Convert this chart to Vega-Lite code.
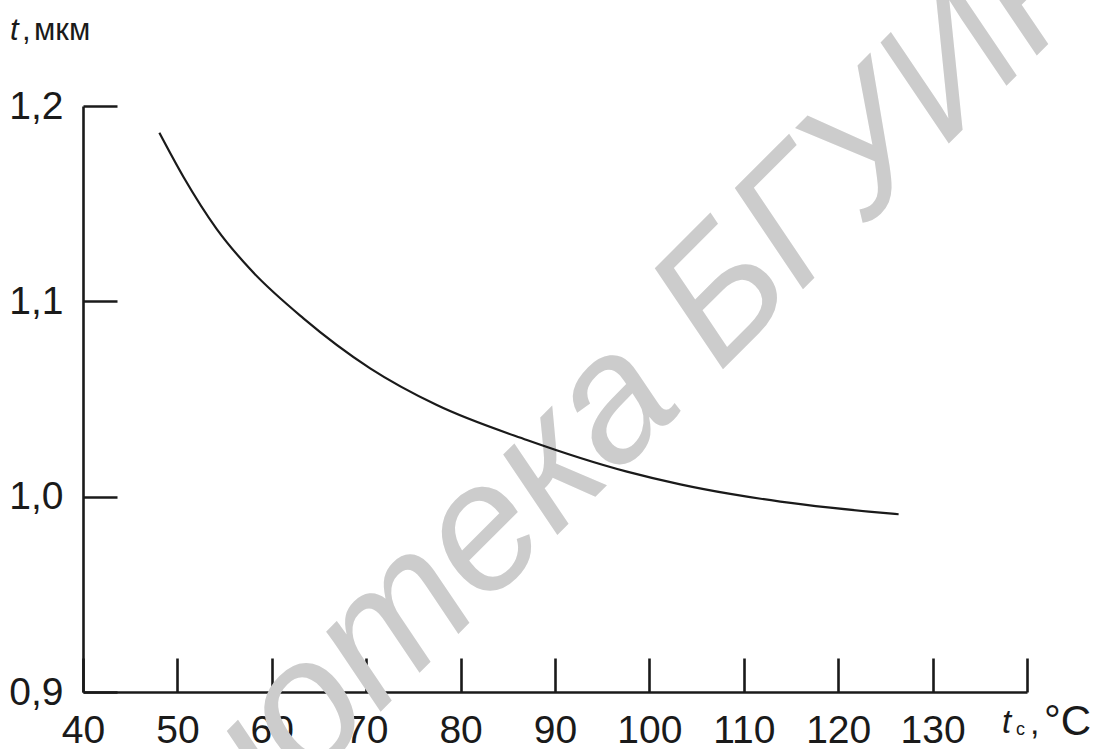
{
  "$schema": "https://vega.github.io/schema/vega-lite/v6.json",
  "width": 944,
  "height": 586,
  "autosize": {"type": "none"},
  "padding": {"left": 83, "top": 106, "right": 66, "bottom": 57},
  "background": "white",
  "config": {
    "view": {"stroke": null},
    "font": "Liberation Sans",
    "axis": {"zindex": 1}
  },
  "data": {
    "values": [
      {"temp": 48.09, "thick": 1.1863},
      {"temp": 50.63, "thick": 1.1638},
      {"temp": 54.17, "thick": 1.137},
      {"temp": 57.7, "thick": 1.1165},
      {"temp": 63.35, "thick": 1.0913},
      {"temp": 70.42, "thick": 1.0657},
      {"temp": 77.48, "thick": 1.0469},
      {"temp": 87.02, "thick": 1.029},
      {"temp": 97.62, "thick": 1.0128},
      {"temp": 103.27, "thick": 1.0063},
      {"temp": 108.57, "thick": 1.0014},
      {"temp": 113.87, "thick": 0.9975},
      {"temp": 119.17, "thick": 0.9944},
      {"temp": 124.46, "thick": 0.9918},
      {"temp": 126.4, "thick": 0.991}
    ]
  },
  "layer": [
    {
      "data": {"values": [{"w": "БГУИР"}]},
      "mark": {"type": "text", "align": "left", "baseline": "alphabetic", "angle": -45, "fontSize": 174, "fontStyle": "italic", "color": "#cccccc", "font": "Liberation Sans"},
      "encoding": {
        "x": {"datum": 107.4, "type": "quantitative"},
        "y": {"datum": 1.0633, "type": "quantitative"},
        "text": {"field": "w"}
      }
    },
    {
      "data": {"values": [{"w": "Библиотека"}]},
      "mark": {"type": "text", "align": "right", "baseline": "alphabetic", "angle": -45, "fontSize": 180, "fontStyle": "italic", "color": "#cccccc", "font": "Liberation Sans"},
      "encoding": {
        "x": {"datum": 103.9, "type": "quantitative"},
        "y": {"datum": 1.0464, "type": "quantitative"},
        "text": {"field": "w"}
      }
    },
    {
      "mark": {"type": "line", "interpolate": "monotone", "color": "#1a1a1a", "strokeWidth": 2.2},
      "encoding": {
        "x": {
          "field": "temp", "type": "quantitative",
          "scale": {"domain": [40, 140], "nice": false, "zero": false},
          "axis": {
            "values": [40, 50, 60, 70, 80, 90, 100, 110, 120, 130, 140],
            "labelExpr": "datum.value == 140 ? '' : datum.label",
            "title": null, "grid": false,
            "domainColor": "#1a1a1a", "domainWidth": 2.6,
            "tickColor": "#1a1a1a", "tickWidth": 2.6, "tickSize": -34,
            "labelFontSize": 39, "labelColor": "#1a1a1a", "labelFont": "Liberation Sans",
            "labelPadding": 53, "labelBaseline": "top", "labelFlush": false, "labelOverlap": false
          }
        },
        "y": {
          "field": "thick", "type": "quantitative",
          "scale": {"domain": [0.9, 1.2], "nice": false, "zero": false},
          "axis": {
            "values": [0.9, 1.0, 1.1, 1.2],
            "labelExpr": "replace(format(datum.value, '.1f'), '.', ',')",
            "title": null, "grid": false,
            "domainColor": "#1a1a1a", "domainWidth": 2.6,
            "tickColor": "#1a1a1a", "tickWidth": 2.6, "tickSize": -34,
            "labelFontSize": 39, "labelColor": "#1a1a1a", "labelFont": "Liberation Sans",
            "labelPadding": 54, "labelFlush": false, "labelOverlap": false
          }
        }
      }
    },
    {
      "data": {"values": [{"s": "t"}]},
      "mark": {"type": "text", "align": "left", "baseline": "alphabetic", "fontSize": 31, "fontStyle": "italic", "color": "#1a1a1a", "dx": -73, "dy": -66},
      "encoding": {"x": {"datum": 40, "type": "quantitative"}, "y": {"datum": 1.2, "type": "quantitative"}, "text": {"field": "s"}}
    },
    {
      "data": {"values": [{"s": ","}]},
      "mark": {"type": "text", "align": "left", "baseline": "alphabetic", "fontSize": 31, "color": "#1a1a1a", "dx": -61, "dy": -66},
      "encoding": {"x": {"datum": 40, "type": "quantitative"}, "y": {"datum": 1.2, "type": "quantitative"}, "text": {"field": "s"}}
    },
    {
      "data": {"values": [{"s": "мкм"}]},
      "mark": {"type": "text", "align": "left", "baseline": "alphabetic", "fontSize": 31, "color": "#1a1a1a", "dx": -49, "dy": -66},
      "encoding": {"x": {"datum": 40, "type": "quantitative"}, "y": {"datum": 1.2, "type": "quantitative"}, "text": {"field": "s"}}
    },
    {
      "data": {"values": [{"s": "t"}]},
      "mark": {"type": "text", "align": "left", "baseline": "alphabetic", "fontSize": 33, "fontStyle": "italic", "color": "#1a1a1a", "dx": -25, "dy": 41},
      "encoding": {"x": {"datum": 140, "type": "quantitative"}, "y": {"datum": 0.9, "type": "quantitative"}, "text": {"field": "s"}}
    },
    {
      "data": {"values": [{"s": "c"}]},
      "mark": {"type": "text", "align": "left", "baseline": "alphabetic", "fontSize": 18, "color": "#1a1a1a", "dx": -11, "dy": 43},
      "encoding": {"x": {"datum": 140, "type": "quantitative"}, "y": {"datum": 0.9, "type": "quantitative"}, "text": {"field": "s"}}
    },
    {
      "data": {"values": [{"s": ","}]},
      "mark": {"type": "text", "align": "left", "baseline": "alphabetic", "fontSize": 34, "color": "#1a1a1a", "dx": 3, "dy": 42},
      "encoding": {"x": {"datum": 140, "type": "quantitative"}, "y": {"datum": 0.9, "type": "quantitative"}, "text": {"field": "s"}}
    },
    {
      "data": {"values": [{"s": "°C"}]},
      "mark": {"type": "text", "align": "left", "baseline": "alphabetic", "fontSize": 42, "color": "#1a1a1a", "dx": 17, "dy": 43},
      "encoding": {"x": {"datum": 140, "type": "quantitative"}, "y": {"datum": 0.9, "type": "quantitative"}, "text": {"field": "s"}}
    }
  ]
}
